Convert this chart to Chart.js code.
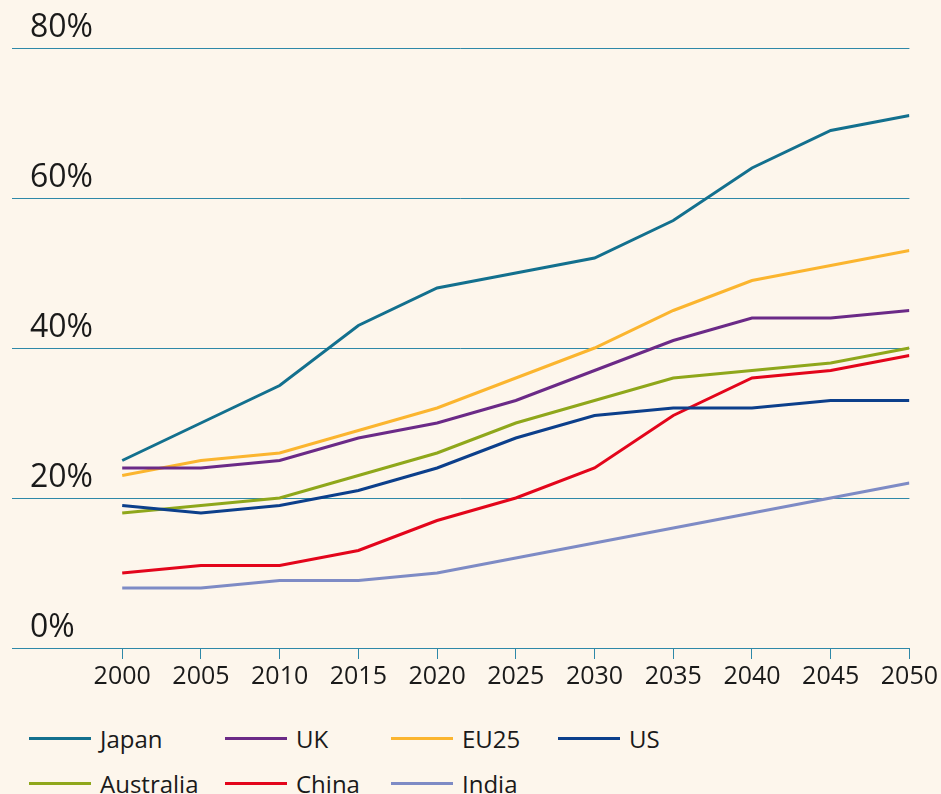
<!DOCTYPE html>
<html>
<head>
<meta charset="utf-8">
<script src="https://cdn.jsdelivr.net/npm/chart.js@4/dist/chart.umd.min.js"></script>
<style>
  html, body { margin: 0; padding: 0; background: #fdf6ec; overflow: hidden; }
  body { width: 941px; height: 794px; position: relative; font-family: "Open Sans", sans-serif; }
  #wrap { position: absolute; left: 0; top: 0; width: 941px; height: 700px; }
  #legend {
    position: absolute; left: 29px; top: 716px;
    display: grid; grid-template-columns: 196px 166px 167px 200px;
    grid-auto-rows: 45px; color: #1a1a1a; font-size: 24px;
  }
  .item { display: flex; align-items: center; white-space: nowrap; }
  .swatch { width: 62px; height: 3px; margin-right: 9px; }
</style>
</head>
<body>
<div id="wrap"><canvas id="c" width="941" height="700"></canvas></div>
<div id="legend"></div>
<script>
// Share of population (%) by year
const years = [2000, 2005, 2010, 2015, 2020, 2025, 2030, 2035, 2040, 2045, 2050];
const yTicks = [0, 20, 40, 60, 80];

const japan     = [25, 30, 35, 43, 48, 50, 52, 57, 64, 69, 71];
const uk        = [24, 24, 25, 28, 30, 33, 37, 41, 44, 44, 45];
const eu25      = [23, 25, 26, 29, 32, 36, 40, 45, 49, 51, 53];
const us        = [19, 18, 19, 21, 24, 28, 31, 32, 32, 33, 33];
const australia = [18, 19, 20, 23, 26, 30, 33, 36, 37, 38, 40];
const china     = [10, 11, 11, 13, 17, 20, 24, 31, 36, 37, 39];
const india     = [8, 8, 9, 9, 10, 12, 14, 16, 18, 20, 22];

const seriesNames = ['Japan', 'UK', 'EU25', 'US', 'Australia', 'China', 'India'];
const seriesValues = [japan, uk, eu25, us, australia, china, india];
const seriesColors = ['#13708e', '#6b2a87', '#fbb52f', '#0c3f8b', '#8fa71b', '#e3051b', '#7e8bc5'];

const gridColor = '#2e88a8';

const datasets = seriesNames.map((name, i) => ({
  label: name,
  data: years.map((yr, j) => ({ x: yr, y: seriesValues[i][j] })),
  borderColor: seriesColors[i],
  backgroundColor: seriesColors[i],
  borderWidth: 3,
  pointRadius: 0,
  tension: 0,
  fill: false
}));

new Chart(document.getElementById('c'), {
  type: 'line',
  data: { datasets },
  options: {
    responsive: false,
    animation: false,
    layout: { padding: { top: 48, left: 0, right: 0, bottom: 0 } },
    plugins: { legend: { display: false }, tooltip: { enabled: false } },
    scales: {
      x: {
        type: 'linear',
        min: 1993,
        max: 2050,
        afterBuildTicks: (scale) => { scale.ticks = years.map(v => ({ value: v })); },
        afterFit: (scale) => { scale.height = 52; },
        grid: { display: true, drawOnChartArea: false, drawTicks: true, tickLength: 11, color: gridColor, lineWidth: 1 },
        border: { display: true, color: gridColor, width: 1 },
        ticks: {
          color: '#1a1a1a',
          font: { family: 'Open Sans', size: 25 },
          padding: 3,
          maxRotation: 0,
          autoSkip: false,
          callback: (v) => String(v)
        }
      },
      y: {
        min: 0,
        max: 80,
        afterBuildTicks: (scale) => { scale.ticks = yTicks.map(v => ({ value: v })); },
        afterFit: (scale) => { scale.width = 12; },
        grid: { color: gridColor, lineWidth: 1, drawTicks: false },
        border: { display: false },
        ticks: {
          mirror: true,
          padding: 18,
          labelOffset: -20,
          color: '#1a1a1a',
          font: { family: 'Open Sans', size: 32 },
          callback: (v) => v + '%'
        }
      }
    }
  }
});

// Legend laid out as a four-column grid
const legend = document.getElementById('legend');
seriesNames.forEach((name, i) => {
  const item = document.createElement('div');
  item.className = 'item';
  const sw = document.createElement('span');
  sw.className = 'swatch';
  sw.style.background = seriesColors[i];
  const tx = document.createElement('span');
  tx.textContent = name;
  item.appendChild(sw);
  item.appendChild(tx);
  legend.appendChild(item);
});
</script>
</body>
</html>
